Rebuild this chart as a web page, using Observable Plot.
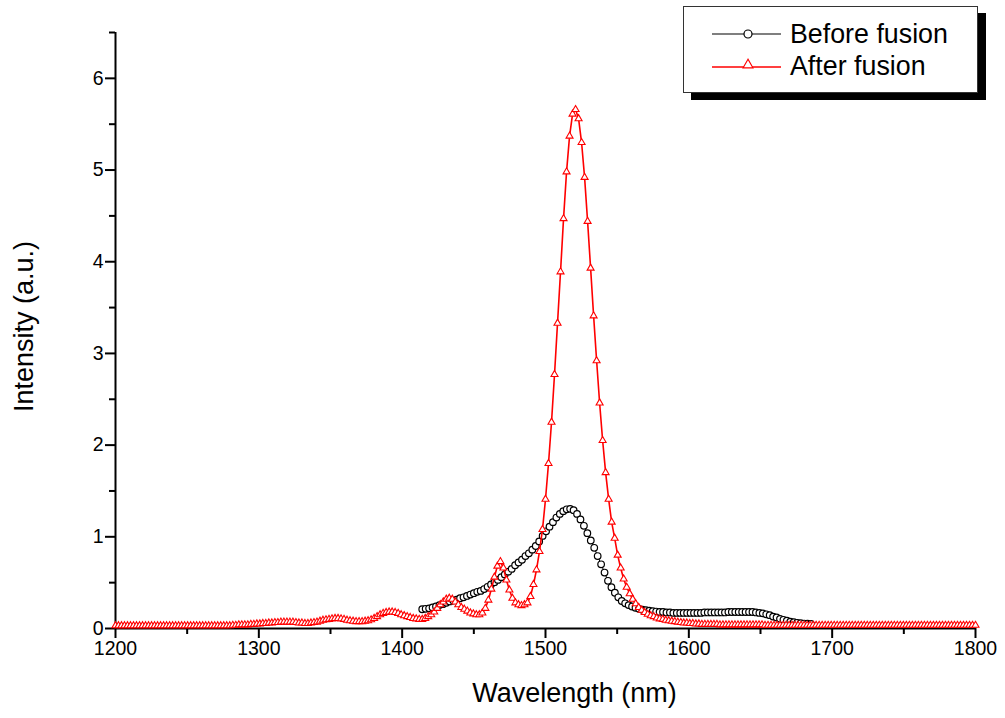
<!DOCTYPE html>
<html><head><meta charset="utf-8">
<script src="https://cdn.jsdelivr.net/npm/d3@7"></script>
<script src="https://cdn.jsdelivr.net/npm/@observablehq/plot@0.6"></script>
<style>
body{margin:0;background:#fff}
#wrap{position:relative;width:1005px;height:718px;font-family:"Liberation Sans",Arial,sans-serif}
#legend{position:absolute;left:683px;top:6px;width:293px;height:85px;border:1px solid #333;background:#fff;box-shadow:8px 7px 0 #000}
</style>
</head><body><div id="wrap"></div><script>
// ---- data ----
const xMajorTicks = [1200, 1300, 1400, 1500, 1600, 1700, 1800];
const xMinorTicks = [1250, 1350, 1450, 1550, 1650, 1750];
const yMajorTicks = [0, 1, 2, 3, 4, 5, 6];
const yMinorTicks = [0.5, 1.5, 2.5, 3.5, 4.5, 5.5, 6.5];
const seriesNames = ["Before fusion", "After fusion"];

// After fusion: 287 samples, 1200-1800 nm
const afterStart = 1200, afterEnd = 1800;
const afterValues = [
0.03,0.03,0.03,0.03,0.03,0.03,0.03,0.03,0.03,0.03,
0.03,0.03,0.03,0.03,0.03,0.03,0.03,0.03,0.03,0.03,
0.03,0.03,0.03,0.03,0.03,0.03,0.03,0.03,0.03,0.03,
0.03,0.03,0.03,0.03,0.03,0.03,0.03,0.03,0.03,0.035,
0.035,0.04,0.04,0.04,0.04,0.045,0.045,0.05,0.05,0.055,
0.055,0.06,0.06,0.065,0.065,0.07,0.07,0.07,0.07,0.07,
0.065,0.06,0.06,0.055,0.055,0.06,0.065,0.07,0.08,0.09,
0.095,0.10,0.105,0.11,0.11,0.105,0.10,0.09,0.085,0.08,
0.075,0.075,0.075,0.08,0.085,0.095,0.11,0.13,0.15,0.165,
0.175,0.18,0.18,0.175,0.165,0.15,0.14,0.13,0.12,0.11,
0.105,0.10,0.10,0.11,0.13,0.15,0.18,0.22,0.26,0.29,
0.32,0.33,0.32,0.29,0.26,0.23,0.21,0.19,0.17,0.16,
0.15,0.15,0.17,0.22,0.31,0.43,0.56,0.68,0.73,0.66,
0.53,0.42,0.33,0.28,0.26,0.25,0.26,0.28,0.35,0.48,
0.64,0.84,1.08,1.41,1.80,2.25,2.77,3.33,3.89,4.47,
4.98,5.37,5.61,5.66,5.56,5.30,4.92,4.44,3.93,3.41,
2.92,2.46,2.05,1.70,1.41,1.16,0.985,0.80,0.66,0.54,
0.45,0.38,0.32,0.27,0.23,0.20,0.175,0.155,0.14,0.13,
0.115,0.105,0.10,0.09,0.085,0.08,0.075,0.07,0.065,0.06,
0.06,0.055,0.055,0.05,0.05,0.045,0.045,0.045,0.045,0.045,
0.045,0.04,0.04,0.04,0.04,0.04,0.04,0.04,0.04,0.04,
0.04,0.04,0.04,0.04,0.04,0.04,0.035,0.035,0.035,0.035,
0.035,0.035,0.035,0.035,0.035,0.035,0.035,0.035,0.035,0.035,
0.035,0.035,0.035,0.035,0.035,0.035,0.035,0.035,0.035,0.035,
0.035,0.035,0.035,0.035,0.035,0.035,0.035,0.035,0.035,0.035,
0.035,0.035,0.035,0.035,0.035,0.035,0.035,0.035,0.035,0.035,
0.035,0.035,0.035,0.035,0.035,0.035,0.035,0.035,0.035,0.035,
0.035,0.035,0.035,0.035,0.035,0.035,0.035,0.035,0.035,0.035,
0.035,0.035,0.035,0.035,0.035,0.035,0.035
];

// Before fusion: 114 samples, 1414-1685.2 nm
const beforeStart = 1414, beforeEnd = 1685.2;
const beforeValues = [
0.21,0.215,0.22,0.23,0.24,0.255,0.265,0.28,0.295,0.305,
0.315,0.33,0.34,0.355,0.37,0.385,0.40,0.41,0.43,0.455,
0.48,0.505,0.53,0.56,0.59,0.62,0.65,0.69,0.72,0.75,
0.79,0.82,0.86,0.90,0.95,1.01,1.06,1.11,1.16,1.21,
1.25,1.28,1.30,1.305,1.29,1.25,1.19,1.12,1.04,0.96,
0.88,0.79,0.70,0.61,0.52,0.45,0.39,0.34,0.30,0.275,
0.255,0.24,0.225,0.215,0.205,0.20,0.195,0.19,0.185,0.18,
0.18,0.175,0.175,0.17,0.17,0.17,0.17,0.17,0.17,0.17,
0.17,0.17,0.175,0.175,0.175,0.175,0.175,0.175,0.175,0.18,
0.18,0.18,0.18,0.18,0.18,0.18,0.18,0.175,0.17,0.165,
0.155,0.145,0.13,0.12,0.105,0.095,0.085,0.075,0.068,0.062,
0.057,0.054,0.052,0.05
];

// ---- tables (values placed on the instrument's even wavelength grid) ----
const gridAt = (a, b, n, i) => a + i * (b - a) / (n - 1);
const after = afterValues.map((v, i) => ({x: gridAt(afterStart, afterEnd, afterValues.length, i), y: v}));
const before = beforeValues.map((v, i) => ({x: gridAt(beforeStart, beforeEnd, beforeValues.length, i), y: v}));

const font = "Liberation Sans, Arial, sans-serif";
const chart = Plot.plot({
  width: 1005, height: 718,
  marginLeft: 115, marginRight: 30, marginTop: 32, marginBottom: 90,
  x: {domain: [1200, 1800]},
  y: {domain: [0, 6.5]},
  style: {fontFamily: font, background: "white", color: "black", overflow: "visible"},
  marks: [
    Plot.axisX({ticks: xMajorTicks, tickSize: 10, tickPadding: 3, fontSize: 19.5, strokeWidth: 2, label: null, tickFormat: d => String(d)}),
    Plot.axisX({ticks: xMinorTicks, tickSize: 6, strokeWidth: 2, text: null, label: null}),
    Plot.axisY({ticks: yMajorTicks, tickSize: 10, tickPadding: 2, fontSize: 19.5, strokeWidth: 2, label: null, tickFormat: d => String(d)}),
    Plot.axisY({ticks: yMinorTicks, tickSize: 6, strokeWidth: 2, text: null, label: null}),
    Plot.ruleY([0], {stroke: "black", strokeWidth: 2}),
    Plot.ruleX([1200], {stroke: "black", strokeWidth: 2}),
    Plot.text(["Wavelength (nm)"], {frameAnchor: "bottom", textAnchor: "middle", lineAnchor: "bottom", dy: 73, dx: 29, fontSize: 27, fill: "black"}),
    Plot.text(["Intensity (a.u.)"], {frameAnchor: "left", textAnchor: "middle", lineAnchor: "middle", rotate: -90, dx: -91, dy: -4, fontSize: 27, fill: "black"}),
    Plot.line(before, {x: "x", y: "y", stroke: "black", strokeWidth: 1}),
    Plot.dot(before, {x: "x", y: "y", r: 3.3, stroke: "black", fill: "white", strokeWidth: 1.2}),
    Plot.line(after, {x: "x", y: "y", stroke: "red", strokeWidth: 1.6}),
    Plot.dot(after, {x: "x", y: "y", symbol: "triangle", r: 2.6, stroke: "red", fill: "white", strokeWidth: 1.1})
  ]
});
const wrap = document.getElementById("wrap");
wrap.appendChild(chart);

// ---- legend ----
const legend = document.createElement("div");
legend.id = "legend";
const tri = (cx, cy, s) => `${cx},${cy - s * 0.58} ${cx - s / 2},${cy + s * 0.29} ${cx + s / 2},${cy + s * 0.29}`;
legend.innerHTML = `<svg width="293" height="85" style="position:absolute;left:0;top:0;font-family:${font}">
  <line x1="28" x2="97" y1="27" y2="27" stroke="black" stroke-width="1.2"/>
  <circle cx="64" cy="27" r="4" fill="white" stroke="black" stroke-width="1.2"/>
  <text x="106" y="35.5" font-size="26.8" fill="black">${seriesNames[0]}</text>
  <line x1="28" x2="97" y1="60" y2="60" stroke="red" stroke-width="1.6"/>
  <polygon points="${tri(64, 58, 10)}" fill="white" stroke="red" stroke-width="1.1"/>
  <text x="106" y="68" font-size="26.8" fill="black">${seriesNames[1]}</text>
</svg>`;
wrap.appendChild(legend);
</script></body></html>
